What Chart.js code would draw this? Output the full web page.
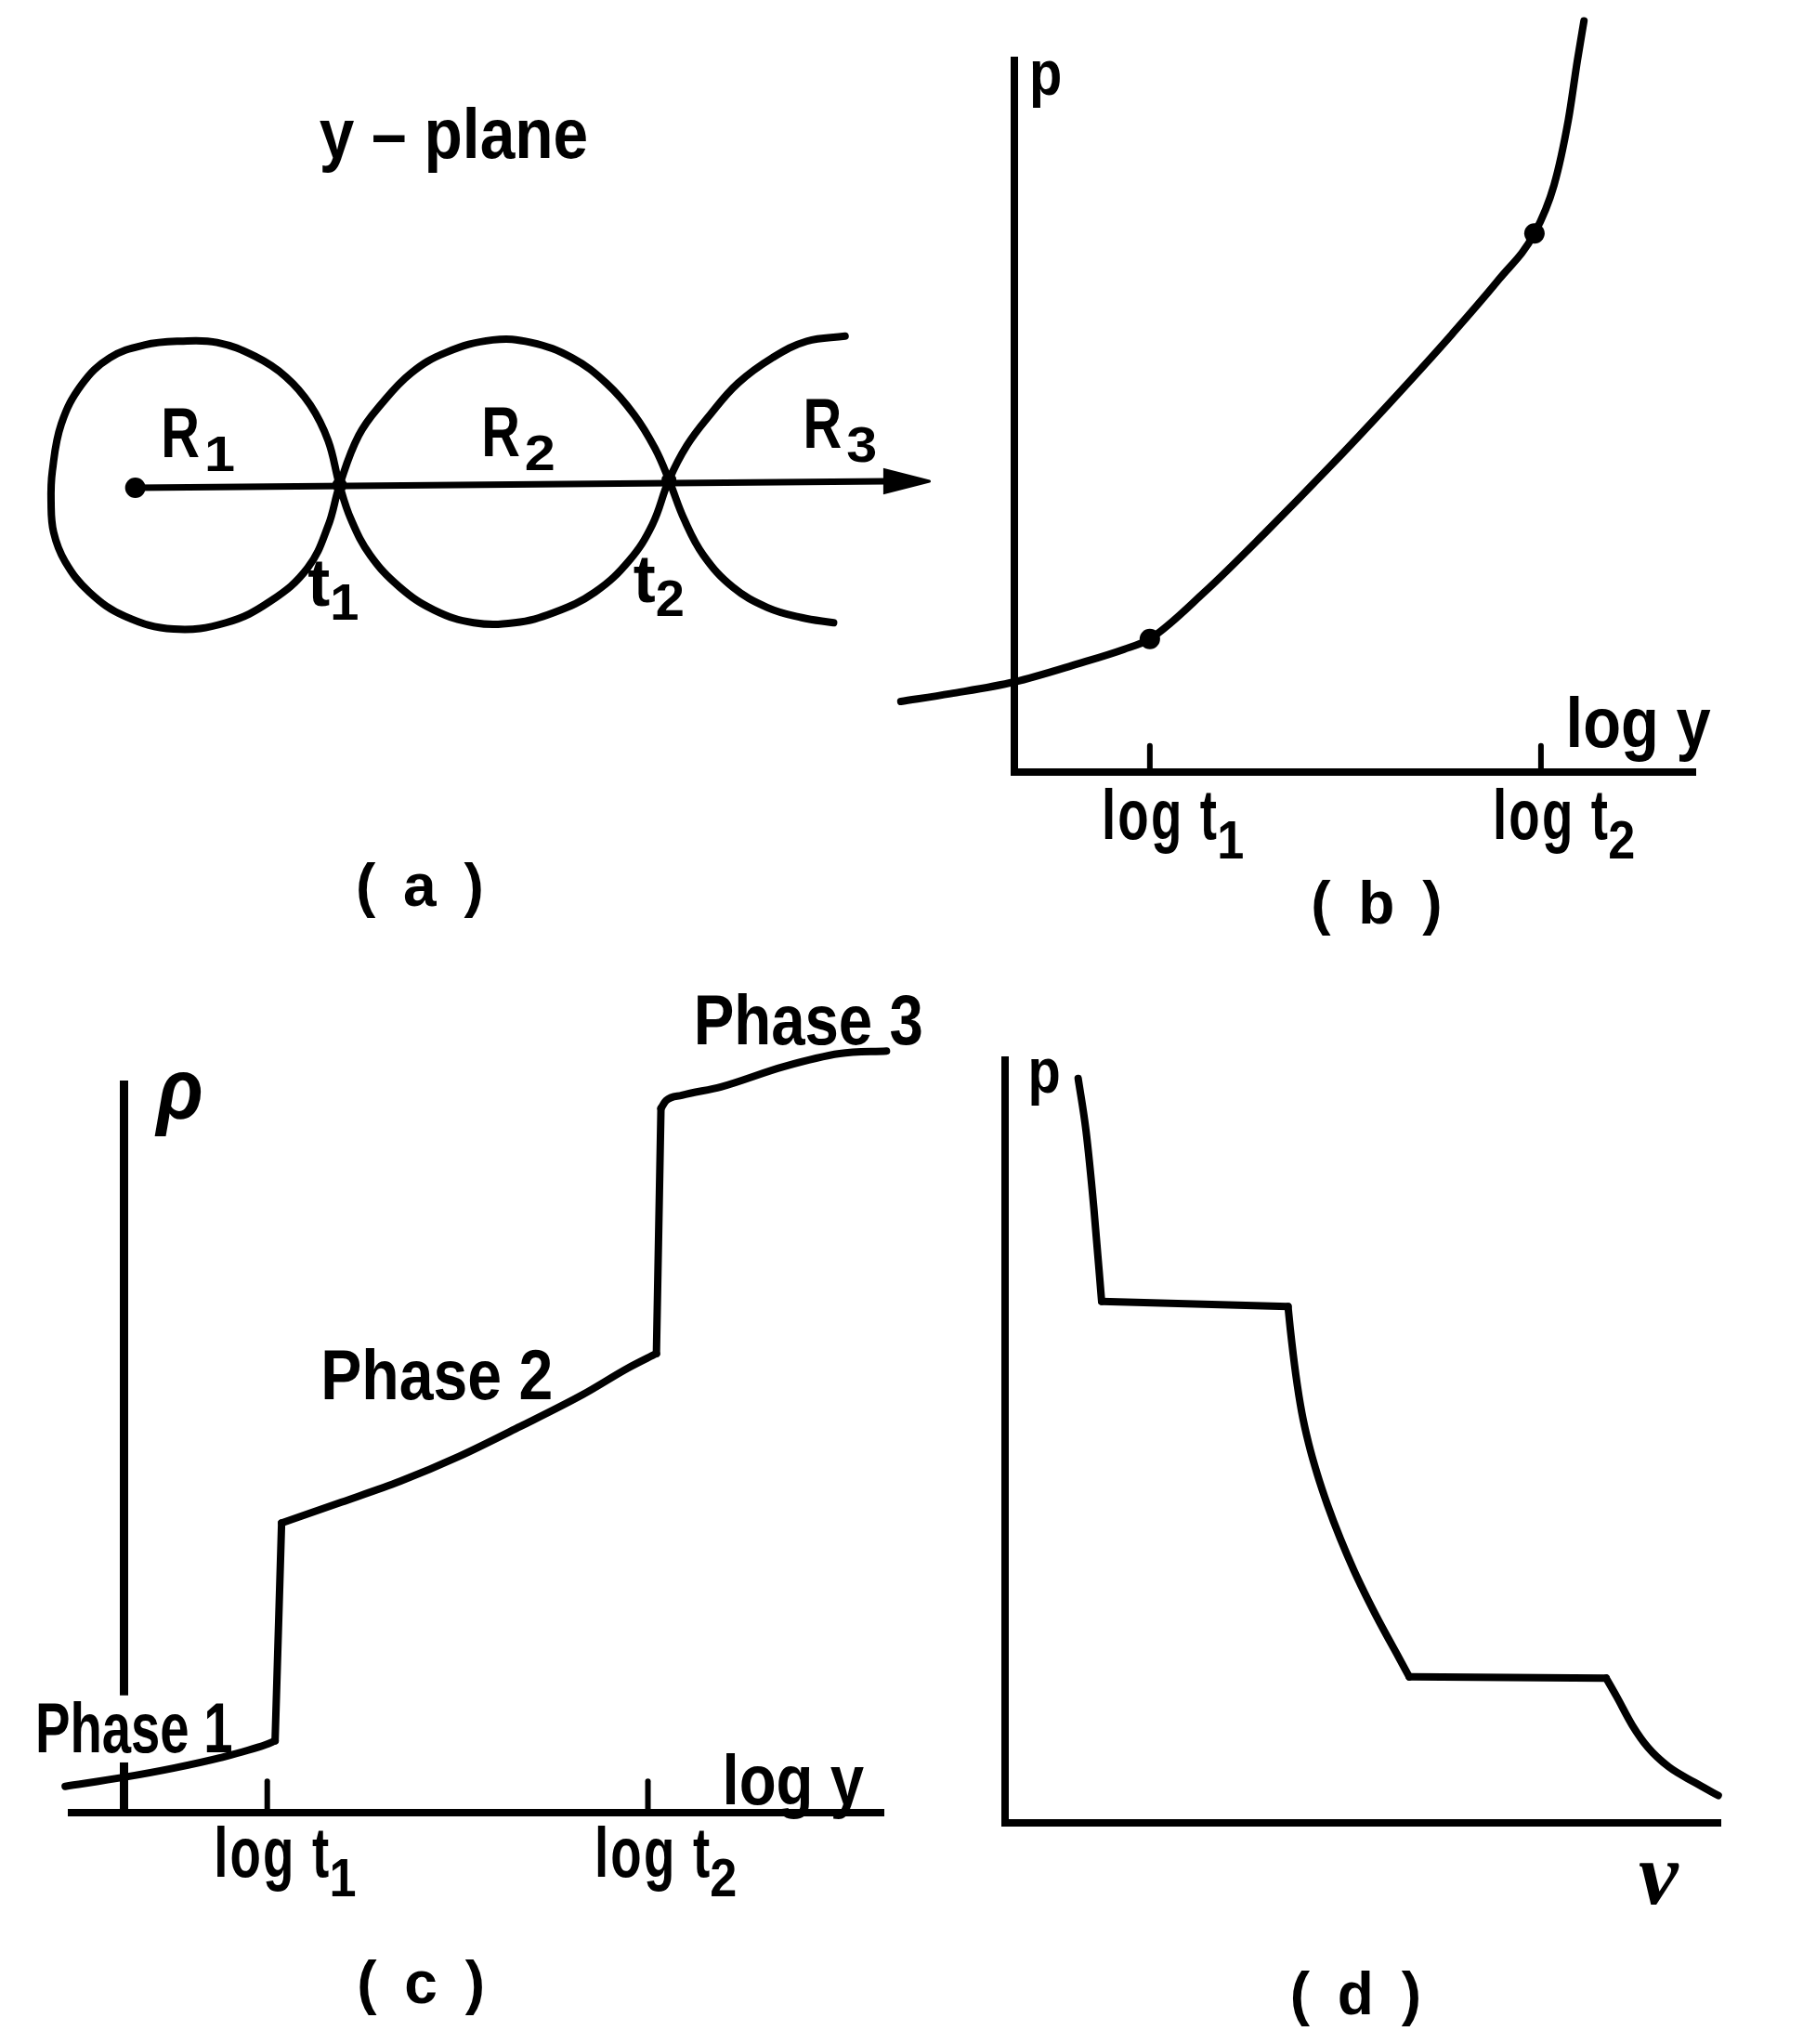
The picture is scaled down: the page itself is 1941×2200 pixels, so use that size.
<!DOCTYPE html>
<html>
<head>
<meta charset="utf-8">
<script src="https://cdn.jsdelivr.net/npm/chart.js@4.4.1/dist/chart.umd.min.js"></script>
<style>
  html, body { margin: 0; padding: 0; background: #fff; }
  #page { position: relative; width: 1941px; height: 2200px; background: #fff; overflow: hidden; }
  #page canvas { position: absolute; }
</style>
</head>
<body>
<div id="page">
  <canvas id="ca"></canvas>
  <canvas id="cb"></canvas>
  <canvas id="cc"></canvas>
  <canvas id="cd"></canvas>
</div>
<script>
// ---------------- DATA ----------------
// (a) y-plane: one continuous curve forming the three lobes (plane units)
const planeCurveX = [5.56,5.26,4.99,4.72,4.50,4.32,4.18,4.05,3.87,3.60,3.28,2.97,2.65,2.34,2.07,1.84,1.69,1.60,
  1.51,1.37,1.18,0.94,0.64,0.35,0.07,-0.20,-0.42,-0.58,-0.65,-0.66,-0.64,-0.55,-0.36,-0.08,0.30,0.71,1.06,1.35,1.51,1.60,
  1.75,1.93,2.16,2.43,2.80,3.10,3.42,3.69,3.91,4.07,4.18,4.30,4.45,4.68,4.95,5.22,5.47];
const planeCurveY = [1.19,1.15,1.02,0.82,0.57,0.33,0.06,-0.29,-0.57,-0.82,-0.98,-1.06,-1.06,-0.96,-0.78,-0.53,-0.25,0.02,
  0.37,0.65,0.87,1.03,1.14,1.15,1.12,1.02,0.81,0.50,0.13,-0.11,-0.35,-0.58,-0.82,-1.01,-1.11,-1.06,-0.89,-0.63,-0.30,0.02,
  0.41,0.66,0.90,1.06,1.16,1.14,1.02,0.82,0.57,0.31,0.06,-0.25,-0.53,-0.78,-0.94,-1.02,-1.06];
const realAxisX = [0, 5.88];
const realAxisY = [0, 0.05];
const arrowHeadX = [6.22, 5.87, 5.87, 6.22];
const arrowHeadY = [0.05, 0.14, -0.04, 0.05];
const originX = [0], originY = [0];
const crossingX = [1.60, 4.18];            // t1, t2
const crossingY = [0.02, 0.06];

// (b) p versus log y
const curveBX = [-0.87,-0.49,0.00,0.49,0.84,1.04,1.46,1.93,2.41,2.88,3.36,3.72,3.99,4.14,4.25,4.32,4.37];
const curveBY = [0.54,0.60,0.69,0.83,0.94,1.02,1.38,1.84,2.33,2.83,3.36,3.78,4.13,4.50,5.00,5.46,5.76];
const dotsBX = [1.04, 3.99];
const dotsBY = [1.02, 4.13];
const tickValuesB = [1.04, 4.04];
const tickLabelsB = ['log t\u2081', 'log t\u2082'];

// (c) rho versus log y, three phases joined by jumps
const phase1X = [-0.45, 0.00, 0.38, 0.74, 1.09, 1.16];
const phase1Y = [0.20, 0.27, 0.34, 0.42, 0.52, 0.55];
const phase2X = [1.21, 1.67, 2.12, 2.57, 3.04, 3.52, 3.87, 4.085];
const phase2Y = [2.22, 2.38, 2.54, 2.73, 2.96, 3.205, 3.41, 3.52];
const phase3X = [4.12, 4.16, 4.28, 4.58, 5.06, 5.49, 5.85];
const phase3Y = [5.40, 5.46, 5.50, 5.565, 5.72, 5.82, 5.84];
const tickValuesC = [0, 1.10, 4.02];
const tickLabelsC = ['', 'log t\u2081', 'log t\u2082'];

// (d) p versus v: steep branch, two expansion branches, joined by plateaus
const steepX = [0.56, 0.62, 0.68, 0.74];
const steepY = [5.71, 5.31, 4.72, 4.00];
const expand2X = [2.17, 2.187, 2.23, 2.275, 2.328, 2.394, 2.472, 2.571, 2.674, 2.789, 2.898, 3.019, 3.10];
const expand2Y = [3.96, 3.79, 3.435, 3.15, 2.91, 2.675, 2.44, 2.18, 1.94, 1.70, 1.49, 1.27, 1.12];
const expand3X = [4.61, 4.69, 4.81, 4.93, 5.09, 5.29, 5.47];
const expand3Y = [1.11, 0.97, 0.75, 0.58, 0.43, 0.31, 0.21];

// ---------------- LAYOUT / STYLE ----------------
const S = 1941 / 1383;            // reference-view px -> page px
const U = 100;                    // reference-view px per data unit
const INK = '#000';
const FONT = '"Liberation Sans", Arial, sans-serif';
const LW = 8;

function layoutFor(id, box, area, origin) {
  const cv = document.getElementById(id);
  const bx = Math.round(box.x * S), by = Math.round(box.y * S);
  cv.width = Math.round(box.w * S);
  cv.height = Math.round(box.h * S);
  cv.style.left = bx + 'px';
  cv.style.top = by + 'px';
  const padding = {
    left: area.x0 * S - bx,
    top: area.y0 * S - by,
    right: bx + cv.width - area.x1 * S,
    bottom: 0
  };
  const bottomSpace = by + cv.height - area.y1 * S;
  const range = {
    xmin: (area.x0 - origin.x) / U, xmax: (area.x1 - origin.x) / U,
    ymin: (origin.y - area.y1) / U, ymax: (origin.y - area.y0) / U
  };
  return { cv, padding, bottomSpace, range };
}

const pts = (xs, ys) => xs.map((x, i) => ({ x, y: ys[i] }));
const last = a => a[a.length - 1];

function lineDs(xs, ys, extra) {
  return Object.assign({
    data: pts(xs, ys), showLine: true, borderColor: INK, backgroundColor: INK,
    borderWidth: LW, pointRadius: 0, pointHoverRadius: 0, fill: false, clip: false,
    borderCapStyle: 'round', borderJoinStyle: 'round', tension: 0
  }, extra || {});
}
function dotDs(xs, ys, r) {
  return {
    data: pts(xs, ys), showLine: false, pointRadius: r, pointHoverRadius: r,
    backgroundColor: INK, borderColor: INK, borderWidth: 0, clip: false
  };
}

// draws one label (optionally with a subscript); maskOnly paints a white box behind it
function drawLabel(ctx, it, px, py, maskOnly) {
  const fam = it.family || FONT;
  const mainFont = (it.italic ? 'italic ' : '') + 'bold ' + it.size + 'px ' + fam;
  const subFont = 'bold ' + (it.subSize || 10) + 'px ' + fam;
  const sx = it.sx || 1, ssx = it.subSx || 1, gap = it.subGap || 0;
  ctx.save();
  ctx.letterSpacing = (it.ls || 0) + 'px';
  ctx.font = mainFont;
  const w = ctx.measureText(it.text).width * sx;
  let sw = 0;
  if (it.sub) { ctx.font = subFont; sw = gap + ctx.measureText(it.sub).width * ssx; }
  const total = w + sw;
  const left = it.align === 'center' ? px - total / 2 : px;
  if (maskOnly) {
    ctx.fillStyle = '#fff';
    ctx.fillRect(left - it.mask, py - it.size * 0.8, total + 2 * it.mask, it.size * 0.95);
    ctx.restore();
    return;
  }
  ctx.fillStyle = INK;
  ctx.textBaseline = 'alphabetic';
  ctx.textAlign = 'left';
  ctx.save(); ctx.translate(left, py); ctx.scale(sx, 1); ctx.font = mainFont; ctx.fillText(it.text, 0, 0); ctx.restore();
  if (it.sub) {
    ctx.save(); ctx.translate(left + w + gap, py + it.subDy); ctx.scale(ssx, 1); ctx.font = subFont; ctx.fillText(it.sub, 0, 0); ctx.restore();
  }
  ctx.restore();
}

const SUBS = '\u2080\u2081\u2082\u2083\u2084\u2085\u2086\u2087\u2088\u2089';
function splitSub(label) {
  let i = label.length;
  while (i > 0 && SUBS.includes(label[i - 1])) i--;
  const sub = label.slice(i).split('').map(c => String(SUBS.indexOf(c))).join('');
  return { text: label.slice(0, i), sub };
}

function textPlugin(items, tickSpec) {
  return {
    id: 'texts',
    beforeDatasetsDraw(chart) {
      const ctx = chart.ctx, xs = chart.scales.x, ys = chart.scales.y;
      items.filter(it => it.mask).forEach(it => {
        drawLabel(ctx, it, xs.getPixelForValue(it.x), ys.getPixelForValue(it.y), true);
      });
    },
    afterDraw(chart) {
      const ctx = chart.ctx, xs = chart.scales.x, ys = chart.scales.y;
      // tick labels of the x axis, taken from the axis' own ticks
      if (tickSpec) {
        xs.ticks.forEach((t, i) => {
          const label = (t.label !== undefined && t.label !== null) ? String(t.label) : (tickSpec.labels[i] || '');
          if (!label) return;
          const parts = splitSub(label);
          const it = Object.assign({}, tickSpec.style, { text: parts.text, sub: parts.sub });
          drawLabel(ctx, it, xs.getPixelForValue(t.value + tickSpec.dx), ys.getPixelForValue(tickSpec.y), false);
        });
      }
      items.forEach(it => {
        drawLabel(ctx, it, xs.getPixelForValue(it.x), ys.getPixelForValue(it.y), false);
      });
    }
  };
}

function xAxis(L, opt) {
  const o = opt || {};
  return {
    type: 'linear', position: 'bottom', bounds: 'data',
    display: o.hidden ? false : true,
    grid: { display: false, drawTicks: false },
    border: { display: true, color: INK, width: LW },
    ticks: {
      display: false, autoSkip: false, maxRotation: 0, minRotation: 0,
      callback: (v, i) => (o.labels ? o.labels[i] : '')
    },
    afterDataLimits: s => { s.min = L.range.xmin; s.max = L.range.xmax; },
    afterBuildTicks: s => { if (o.values) s.ticks = o.values.map(v => ({ value: v })); },
    afterFit: s => { s.height = L.bottomSpace; }
  };
}
function yAxis(L, opt) {
  const o = opt || {};
  return {
    type: 'linear', bounds: 'data',
    position: o.position || 'left', axis: 'y',
    display: o.hidden ? false : true,
    grid: { display: false, drawTicks: false },
    border: { display: true, color: INK, width: o.width || LW },
    ticks: { display: false },
    afterDataLimits: s => { s.min = L.range.ymin; s.max = L.range.ymax; },
    afterFit: s => { s.width = 0; }
  };
}

function makeChart(L, datasets, scales, texts, tickSpec) {
  return new Chart(L.cv, {
    type: 'scatter',
    data: { datasets },
    options: {
      responsive: false, animation: false, devicePixelRatio: 1, events: [],
      layout: { padding: L.padding },
      plugins: { legend: { display: false }, tooltip: { enabled: false }, title: { display: false } },
      scales
    },
    plugins: [textPlugin(texts, tickSpec)]
  });
}

const tickStyle = { size: 76, sx: 0.72, ls: 3, subSize: 58, subSx: 0.9, subDy: 21, subGap: -2 };
const rStyle = { size: 76, sx: 0.76, subSize: 54, subSx: 1.1, subDy: 15, subGap: 5 };
const tStyle = { size: 72, sx: 1.0, subSize: 56, subSx: 1.0, subDy: 15, subGap: 0 };

// ---------------- PANEL (a) ----------------
{
  const L = layoutFor('ca', { x: 0, y: 40, w: 740, h: 690 }, { x0: 0, y0: 40, x1: 740, y1: 730 }, { x: 98, y: 374 });
  L.padding.bottom = L.bottomSpace; // no visible x axis here
  const ds = [
    lineDs(planeCurveX, planeCurveY, { tension: 0.4 }),
    lineDs(realAxisX, realAxisY, { borderWidth: 7 }),
    lineDs(arrowHeadX, arrowHeadY, { fill: 'shape', borderWidth: 3, borderJoinStyle: 'miter' }),
    dotDs(originX, originY, 11),
    dotDs(crossingX, crossingY, 8)
  ];
  const texts = [
    { text: 'y \u2013 plane', x: 2.494, y: 2.59, size: 76, sx: 0.89, align: 'center' },
    Object.assign({ text: 'R', sub: '1', x: 0.20, y: 0.237 }, rStyle),
    Object.assign({ text: 'R', sub: '2', x: 2.71, y: 0.246 }, rStyle),
    Object.assign({ text: 'R', sub: '3', x: 5.23, y: 0.31 }, rStyle),
    Object.assign({ text: 't', sub: '1', x: 1.35, y: -0.927 }, tStyle),
    Object.assign({ text: 't', sub: '2', x: 3.90, y: -0.899 }, tStyle),
    { text: '( a )', x: 2.25, y: -3.28, size: 64, ls: 6, align: 'center' }
  ];
  makeChart(L, ds, {
    x: xAxis(L, { hidden: true }),
    y: yAxis(L, { hidden: true })
  }, texts, null);
}

// ---------------- PANEL (b) ----------------
{
  const L = layoutFor('cb', { x: 640, y: 0, w: 720, h: 740 }, { x0: 778, y0: 46, x1: 1301, y1: 592 }, { x: 778, y: 592 });
  const tickLen = 0.2;
  const ds = [
    lineDs(curveBX, curveBY, { cubicInterpolationMode: 'monotone' }),
    dotDs(dotsBX, dotsBY, 11)
  ].concat(tickValuesB.map(v => lineDs([v, v], [0, tickLen], { borderWidth: 6 })));
  const texts = [
    { text: 'p', x: 0.24, y: 5.19, size: 68, sx: 0.85, align: 'center' },
    { text: 'log y', x: 4.23, y: 0.19, size: 76, sx: 0.88 },
    { text: '( b )', x: 2.80, y: -1.16, size: 64, ls: 6, align: 'center' }
  ];
  makeChart(L, ds, {
    x: xAxis(L, { values: tickValuesB, labels: tickLabelsB }),
    y: yAxis(L)
  }, texts, { labels: tickLabelsB, dx: -0.37, y: -0.516, style: tickStyle });
}

// ---------------- PANEL (c) ----------------
{
  const L = layoutFor('cc', { x: 0, y: 740, w: 740, h: 828 }, { x0: 55, y0: 832, x1: 678, y1: 1390 }, { x: 95, y: 1390 });
  const tickLen = [0.30, 0.24, 0.24];
  const ds = [
    lineDs(phase1X, phase1Y, { cubicInterpolationMode: 'monotone' }),
    lineDs([last(phase1X), phase2X[0]], [last(phase1Y), phase2Y[0]]),
    lineDs(phase2X, phase2Y, { cubicInterpolationMode: 'monotone' }),
    lineDs([last(phase2X), phase3X[0]], [last(phase2Y), phase3Y[0]]),
    lineDs(phase3X, phase3Y, { cubicInterpolationMode: 'monotone' })
  ].concat(tickValuesC.map((v, i) => lineDs([v, v], [0, tickLen[i]], { borderWidth: 6 })));
  const texts = [
    { text: '\u03c1', x: 0.43, y: 5.32, size: 92, sx: 0.9, align: 'center', italic: true },
    { text: 'Phase 3', x: 4.37, y: 5.89, size: 76, sx: 0.86 },
    { text: 'Phase 2', x: 1.51, y: 3.17, size: 76, sx: 0.87 },
    { text: 'Phase 1', x: -0.68, y: 0.465, size: 76, sx: 0.74, mask: 6 },
    { text: 'log y', x: 4.59, y: 0.06, size: 76, sx: 0.86 },
    { text: '( c )', x: 2.30, y: -1.46, size: 64, ls: 6, align: 'center' }
  ];
  makeChart(L, ds, {
    x: xAxis(L, { values: tickValuesC, labels: tickLabelsC }),
    y: yAxis(L, { position: { x: 0 }, width: 9 })
  }, texts, { labels: tickLabelsC, dx: -0.41, y: -0.493, style: tickStyle });
}

// ---------------- PANEL (d) ----------------
{
  const L = layoutFor('cd', { x: 700, y: 760, w: 683, h: 808 }, { x0: 771, y0: 813, x1: 1320, y1: 1398 }, { x: 771, y: 1398 });
  const ds = [
    lineDs(steepX, steepY, { cubicInterpolationMode: 'monotone' }),
    lineDs([last(steepX), expand2X[0]], [last(steepY), expand2Y[0]]),
    lineDs(expand2X, expand2Y, { cubicInterpolationMode: 'monotone' }),
    lineDs([last(expand2X), expand3X[0]], [last(expand2Y), expand3Y[0]]),
    lineDs(expand3X, expand3Y, { cubicInterpolationMode: 'monotone' })
  ];
  const texts = [
    { text: 'p', x: 0.30, y: 5.60, size: 68, sx: 0.85, align: 'center' },
    { text: 'v', x: 5.01, y: -0.62, size: 96, align: 'center', italic: true, family: '"Liberation Serif", serif' },
    { text: '( d )', x: 2.71, y: -1.47, size: 64, ls: 6, align: 'center' }
  ];
  makeChart(L, ds, {
    x: xAxis(L),
    y: yAxis(L)
  }, texts, null);
}
</script>
</body>
</html>
